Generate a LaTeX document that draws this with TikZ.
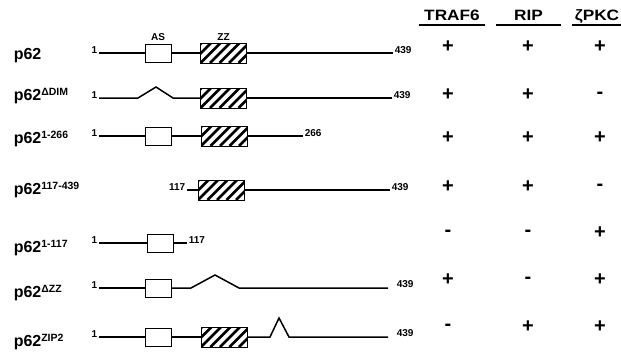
\documentclass[tikz,border=0pt]{standalone}
\usepackage{fontspec}
\setmainfont{Liberation Sans}
\usetikzlibrary{positioning}

\newcommand{\supx}[1]{\raisebox{4.5pt}{\fontsize{10.5}{10.5}\selectfont #1}}

\begin{document}
\begin{tikzpicture}[
    x=1pt, y=-1pt,          % pixel-like units, y downwards
    line width=1.5pt,       % backbone lines
    font=\bfseries,
    cname/.style={anchor=base west, inner sep=0pt, font=\fontsize{16}{16}\selectfont\bfseries},
    num/.style={inner sep=1pt, font=\fontsize{10}{10}\selectfont\bfseries},
    asbox/.style={draw, fill=white, line width=0.9pt, minimum width=26pt, minimum height=18pt, inner sep=0pt},
    zzbox/.style={draw, fill=white, line width=0.9pt, minimum width=46pt, minimum height=20pt, inner sep=0pt,
        path picture={
            \foreach \k in {-3,...,5}
                \draw[line width=2.8pt] ([xshift=\k*9.5pt]path picture bounding box.south west) -- +(24pt,24pt);
        }},
    hdr/.style={anchor=base, inner xsep=0pt, font=\fontsize{15}{15}\selectfont\bfseries},
    sign/.style={inner sep=0pt, font=\fontsize{20}{20}\selectfont\bfseries}
]

    % --- frame ---
    \useasboundingbox (0,0) rectangle (621,356);

    % --- 1. construct names ---
    \node[cname] (p1) at (13,59)  {p62};
    \node[cname] (p2) at (13,100) {p62\supx{ΔDIM}};
    \node[cname] (p3) at (13,143) {p62\supx{1-266}};
    \node[cname] (p4) at (13,194) {p62\supx{117-439}};
    \node[cname] (p5) at (13,252) {p62\supx{1-117}};
    \node[cname] (p6) at (13,297) {p62\supx{ΔZZ}};
    \node[cname] (p7) at (13,346) {p62\supx{ZIP2}};

    % --- 2. p62 ---
    \node[num, anchor=base east] (s1) at (99,53) {1};
    \node[asbox] (as1) at (158,53) {};
    \node[zzbox] (zz1) at (223.5,53) {};
    \node[num, anchor=base west] (e1) at (393,53) {439};
    \node[num, above=1pt of as1] (asl) {AS};
    \node[num, above=0pt of zz1] (zzl) {ZZ};
    \draw (s1.base east) -- (as1.west);
    \draw (as1.east) -- (zz1.west);
    \draw (zz1.east) -- (e1.base west);

    % --- 3. p62 delta DIM ---
    \node[num, anchor=base east] (s2) at (99,98) {1};
    \node[zzbox] (zz2) at (223.5,98) {};
    \node[num, anchor=base west] (e2) at (392,98) {439};
    \draw (s2.base east) -- (138,98) -- (156,87) -- (173,98) -- (zz2.west);
    \draw (zz2.east) -- (e2.base west);

    % --- 4. p62 1-266 ---
    \node[num, anchor=base east] (s3) at (99,136) {1};
    \node[asbox] (as3) at (158,136) {};
    \node[zzbox] (zz3) at (224,136) {};
    \node[num, anchor=base west] (e3) at (303,136) {266};
    \draw (s3.base east) -- (as3.west);
    \draw (as3.east) -- (zz3.west);
    \draw (zz3.east) -- (e3.base west);

    % --- 5. p62 117-439 ---
    \node[num, anchor=base east] (s4) at (187,190) {117};
    \node[zzbox] (zz4) at (221,190) {};
    \node[num, anchor=base west] (e4) at (390,190) {439};
    \draw (s4.base east) -- (zz4.west);
    \draw (zz4.east) -- (e4.base west);

    % --- 6. p62 1-117 ---
    \node[num, anchor=base east] (s5) at (99,243) {1};
    \node[asbox] (as5) at (160,243) {};
    \node[num, anchor=base west] (e5) at (187,243) {117};
    \draw (s5.base east) -- (as5.west);
    \draw (as5.east) -- (e5.base west);

    % --- 7. p62 delta ZZ ---
    \node[num, anchor=base east] (s6) at (99,288) {1};
    \node[asbox] (as6) at (158,288) {};
    \node[num, anchor=base west] (e6) at (395,287) {439};
    \coordinate (c6) at (388,288);
    \draw (s6.base east) -- (as6.west);
    \draw (as6.east) -- (191,288) -- (215,275) -- (239,288) -- (c6);

    % --- 8. p62 ZIP2 ---
    \node[num, anchor=base east] (s7) at (99,337) {1};
    \node[asbox] (as7) at (158.5,337) {};
    \node[zzbox] (zz7) at (224,337) {};
    \node[num, anchor=base west] (e7) at (395,336) {439};
    \coordinate (c7) at (388,337);
    \draw (s7.base east) -- (as7.west);
    \draw (as7.east) -- (zz7.west);
    \draw (zz7.east) -- (270,337) -- (279,318) -- (289,337) -- (c7);

    % --- 9. binding table ---
    \node[hdr, minimum width=64pt] (traf) at (452,20.5) {\scalebox{1.15}[1]{TRAF6}};
    \node[hdr, minimum width=63pt] (rip)  at (528.5,20.5) {\scalebox{1.15}[1]{RIP}};
    \node[hdr, minimum width=48pt] (pkc)  at (597,20.5) {\scalebox{1.15}[1]{ζPKC}};
    \foreach \h in {traf, rip, pkc}
        \draw ([yshift=-4.5pt]\h.base west) -- ([yshift=-4.5pt]\h.base east);

    \foreach \y/\a/\b/\c [count=\r] in {47/+/+/+, 95/+/+/-, 138/+/+/+, 187/+/+/-,
                                         233/-/-/+, 280/+/-/+, 327/-/+/+} {
        \node[sign] (t\r) at (448,\y) {\a};
        \node[sign] (r\r) at (528,\y) {\b};
        \node[sign] (z\r) at (600,\y) {\c};
    }

\end{tikzpicture}
\end{document}
